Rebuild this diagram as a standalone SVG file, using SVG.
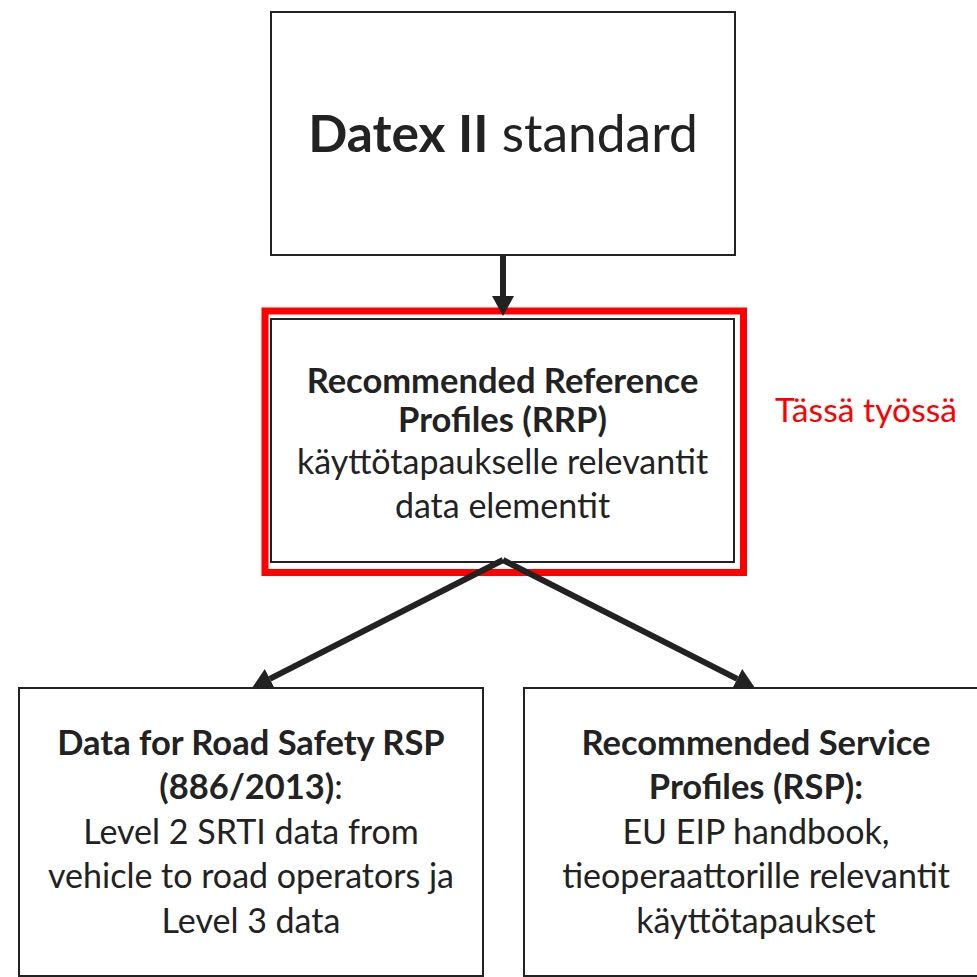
<svg xmlns="http://www.w3.org/2000/svg" width="977" height="977" viewBox="0 0 977 977">
<style>
.box{fill:#fff;stroke:#222;stroke-width:2}
.hl{fill:none;stroke:#ff0000;stroke-width:7}
.t{font-family:Lato,"Liberation Sans",sans-serif;fill:#222;text-anchor:middle}
.b{font-weight:bold}
.r{font-size:34px}
.bs{font-size:34.5px;font-weight:bold}
.conn{stroke:#222;stroke-width:6;fill:none}
.red{font-family:Lato,"Liberation Sans",sans-serif;fill:#ff0000;font-size:33.7px}
</style>
<defs>
<marker id="ah" markerUnits="userSpaceOnUse" markerWidth="20" markerHeight="22" refX="0" refY="11" orient="auto" viewBox="0 0 20 22">
<path d="M0,0 L20,11 L0,22 z" fill="#222"/>
</marker>
</defs>
<rect width="977" height="977" fill="#fff"/>
<g id="datex">
<rect class="box" x="271" y="12" width="464" height="243"/>
<text class="t" x="503" y="152" font-size="51.5"><tspan class="b">Datex II</tspan> standard</text>
</g>
<g id="rrp">
<rect class="hl" x="265" y="311" width="478.5" height="261.5"/>
<rect class="box" x="271" y="319" width="463" height="243"/>
<text class="t bs" x="502.5" y="393">Recommended Reference</text>
<text class="t bs" x="502.5" y="432">Profiles (RRP)</text>
<text class="t r" x="502.5" y="474">käyttötapaukselle relevantit</text>
<text class="t r" x="502.5" y="518">data elementit</text>
</g>
<g id="label">
<text class="red" x="775" y="422">Tässä työssä</text>
</g>
<g id="road-safety">
<rect class="box" x="19" y="688" width="464" height="288"/>
<text class="t bs" x="251" y="755">Data for Road Safety RSP</text>
<text class="t r" x="251" y="799"><tspan class="b" font-size="34.5">(886/2013)</tspan>:</text>
<text class="t r" x="251" y="844">Level 2 SRTI data from</text>
<text class="t r" x="251" y="888">vehicle to road operators ja</text>
<text class="t r" x="251" y="933">Level 3 data</text>
</g>
<g id="rsp">
<rect class="box" x="524" y="688" width="465" height="288"/>
<text class="t bs" x="756" y="755">Recommended Service</text>
<text class="t bs" x="756" y="799">Profiles (RSP):</text>
<text class="t r" x="756" y="844">EU EIP handbook,</text>
<text class="t r" x="756" y="888">tieoperaattorille relevantit</text>
<text class="t r" x="756" y="933">käyttötapaukset</text>
</g>
<g id="connectors">
<line class="conn" x1="503" y1="255" x2="503" y2="296" marker-end="url(#ah)"/>
<line class="conn" x1="503" y1="560" x2="269.8" y2="678.9" marker-end="url(#ah)"/>
<line class="conn" x1="503" y1="560" x2="737.2" y2="678.9" marker-end="url(#ah)"/>
</g>
</svg>
